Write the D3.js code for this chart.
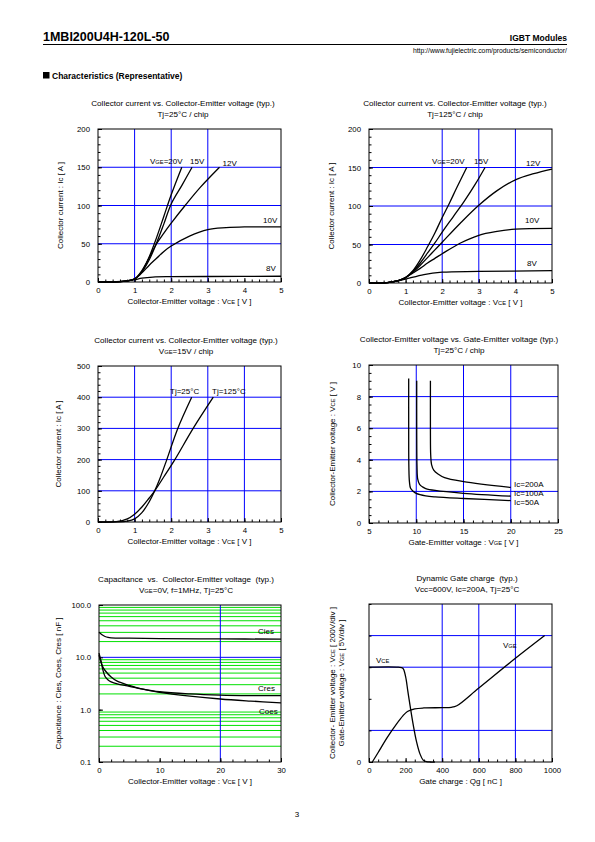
<!DOCTYPE html>
<html><head><meta charset="utf-8">
<script src="https://cdn.jsdelivr.net/npm/d3@7"></script>
<style>
body{margin:0;background:#fff;}
text{font-family:"Liberation Sans",Arial,sans-serif;}
</style></head><body>
<script>
// ---------- DATA ----------
// Chart 1: Ic vs Vce, Tj=25C
const c1_20V = [[0,0],[0.5,0.3],[0.8,1.5],[1.0,4],[1.2,14],[1.4,33],[1.6,58],[1.8,86],[2.0,114],[2.29,150]];
const c1_15V = [[0,0],[0.5,0.3],[0.8,1.5],[1.0,4],[1.2,13],[1.4,29],[1.6,51],[1.8,76],[2.0,102],[2.3,127],[2.57,150]];
const c1_12V = [[0,0],[0.5,0.3],[0.8,1.5],[1.0,4],[1.2,15],[1.4,32],[1.6,50],[1.8,64],[2.0,77],[2.38,100],[2.8,124],[3.32,150]];
const c1_10V = [[0,0],[0.5,0.3],[0.8,1.5],[1.0,4],[1.2,12],[1.4,22],[1.6,31],[1.8,40],[2.0,47],[2.5,60],[3.0,68.5],[3.5,71],[4.0,72],[5.0,72]];
const c1_8V  = [[0,0],[0.5,0.3],[0.8,1.5],[1.0,3],[1.2,5],[1.5,6.5],[2.0,7],[3.0,7.2],[5.0,7.5]];
// Chart 2: Ic vs Vce, Tj=125C
const c2_20V = [[0,0],[0.5,0.5],[0.8,3],[1.0,7],[1.2,16],[1.4,30],[1.6,47],[1.8,65],[2.0,85],[2.2,104],[2.4,124],[2.67,150]];
const c2_15V = [[0,0],[0.5,0.5],[0.8,3],[1.0,7],[1.2,15],[1.4,26],[1.6,39],[1.8,52],[2.0,66],[2.3,86],[2.6,106],[2.9,128],[3.17,150]];
const c2_12V = [[0,0],[0.5,0.5],[0.8,3],[1.0,7],[1.2,14],[1.4,23],[1.6,33],[1.8,43],[2.0,53],[2.5,78],[3.0,101],[3.5,120],[4.0,134],[4.5,142],[5.0,148]];
const c2_10V = [[0,0],[0.5,0.5],[0.8,3],[1.0,7],[1.2,13],[1.4,19],[1.6,26],[1.8,32],[2.0,38],[2.5,52],[3.0,62],[3.5,67],[4.0,70],[5.0,71]];
const c2_8V  = [[0,0],[0.5,0.5],[0.8,3],[1.0,5],[1.5,11],[2.0,14],[3.0,15],[5.0,16]];
// Chart 3: Ic vs Vce, Vge=15V
const c3_25C  = [[0,0],[0.5,0.5],[0.8,3],[1.0,10],[1.2,30],[1.4,65],[1.55,100],[1.7,142],[1.88,200],[2.18,300],[2.56,400]];
const c3_125C = [[0,0],[0.5,1],[0.8,10],[1.0,25],[1.2,48],[1.4,77],[1.55,100],[1.8,145],[2.1,200],[2.6,300],[3.15,400]];
// Chart 4: Vce vs Vge, Tj=25C
const c4_50A  = [[9.2,9.15],[9.2,6],[9.22,3.5],[9.28,2.6],[9.4,2.2],[9.7,2.0],[10,1.88],[11,1.72],[12,1.65],[15,1.55],[20,1.42]];
const c4_100A = [[10.05,9.0],[10.05,6],[10.08,3.6],[10.15,2.8],[10.35,2.45],[10.7,2.27],[11,2.18],[12,2.06],[15,1.88],[20,1.7]];
const c4_200A = [[11.5,9.0],[11.5,6],[11.53,4.3],[11.62,3.7],[11.85,3.35],[12.3,3.1],[13,2.87],[15,2.62],[20,2.25]];
// Chart 5: Capacitance vs Vce
const c5_Cies = [[0,30],[0.5,27],[1,25],[1.5,24],[2,23.6],[5,23.2],[10,22.8],[20,22.5],[30,22.3]];
const c5_Coes = [[0,11],[0.3,8.3],[0.6,6.7],[1,5.6],[2,4.2],[3,3.5],[5,2.9],[7,2.5],[10,2.15],[15,1.82],[20,1.6],[25,1.46],[30,1.35]];
const c5_Cres = [[0,12],[0.3,8.8],[0.6,6],[1,4.3],[1.5,3.7],[2,3.4],[3,3.1],[5,2.8],[7,2.5],[10,2.2],[15,2.0],[20,1.9],[25,1.86],[30,1.85]];
// Chart 6: Gate charge (Vce in V, Vge in V)
const c6_Vce = [[0,600],[160,600],[185,594],[200,540],[212,450],[224,360],[242,233],[260,127],[278,53],[296,12],[315,2],[335,0],[360,0]];
const c6_Vge = [[18,0],[50,1.5],[100,3.9],[150,6.0],[185,7.3],[210,8.0],[250,8.4],[300,8.55],[400,8.6],[450,8.65],[480,8.9],[600,11.7],[800,16.4],[960,20]];

// Tick labels
const ticksIc200 = [0,50,100,150,200];
const ticksIc500 = [0,100,200,300,400,500];
const ticksV5 = [0,1,2,3,4,5];
const ticksVge = [5,10,15,20,25];
const ticksVce10 = [0,2,4,6,8,10];
const ticksCap = [0.1,1,10,100];
const ticksCapX = [0,10,20,30];
const ticksQg = [0,200,400,600,800,1000];

// ---------- DRAWING ----------
const svg = d3.select("body").append("svg").attr("width",595).attr("height",842);
svg.append("rect").attr("width",595).attr("height",842).attr("fill","#fff");

const BLUE="#0000ff", GREEN="#00e000";
const FS_TITLE=8.1, FS_AXIS=8, FS_TICK=7.8, FS_LAB=8;

function rich(g, str, fs){
  const re=/_\{([^}]*)\}/g; let last=0, m;
  while((m=re.exec(str))){
    if(m.index>last) g.append("tspan").text(str.slice(last,m.index));
    g.append("tspan").attr("font-size",fs*0.72).text(m[1]);
    last=re.lastIndex;
  }
  if(last<str.length) g.append("tspan").text(str.slice(last));
}
function txt(x,y,str,fs,anchor,extra){
  const t=svg.append("text").attr("x",x).attr("y",y).attr("font-size",fs)
    .attr("text-anchor",anchor||"start").attr("fill","#000").style("white-space","pre");
  if(extra) extra(t);
  rich(t,str,fs); return t;
}

function chart(c){
  const x = d3.scaleLinear().domain(c.xd).range([c.l,c.r]);
  const y = (c.log?d3.scaleLog():d3.scaleLinear()).domain(c.yd).range([c.b,c.t]);
  const g = svg.append("g");
  (c.hGrid||[]).forEach(h=>{
    g.append("line").attr("x1",c.l).attr("x2",c.r).attr("y1",y(h.v)).attr("y2",y(h.v))
     .attr("stroke",h.c).attr("stroke-width",1);
  });
  (c.xGrid||[]).forEach(v=>{
    g.append("line").attr("y1",c.t).attr("y2",c.b).attr("x1",x(v)).attr("x2",x(v))
     .attr("stroke",BLUE).attr("stroke-width",1);
  });
  const ax = g.append("g").attr("transform",`translate(0,${c.b})`)
    .call(d3.axisBottom(x).tickValues(c.xTicks).tickSizeInner(-4).tickSizeOuter(0).tickPadding(5.5).tickFormat(c.xFmt||d3.format("d")));
  const ay = g.append("g").attr("transform",`translate(${c.l},0)`)
    .call(d3.axisLeft(y).tickValues(c.yTicks).tickSizeInner(-4).tickSizeOuter(0).tickPadding(8).tickFormat(c.yFmt||d3.format("d")));
  [ax,ay].forEach(a=>{a.select(".domain").remove();
    a.selectAll("text").attr("font-size",FS_TICK).attr("font-family","Liberation Sans, Arial, sans-serif").attr("fill","#000");
    a.selectAll("line").attr("stroke","#000");});
  if(c.xMinor){
    g.append("g").attr("transform",`translate(0,${c.b})`)
     .call(d3.axisBottom(x).tickValues(c.xMinor).tickSizeInner(-2.5).tickSizeOuter(0).tickFormat(""))
     .call(s=>{s.select(".domain").remove(); s.selectAll("line").attr("stroke","#000");});
  }
  if(c.yMinor){
    g.append("g").attr("transform",`translate(${c.l},0)`)
     .call(d3.axisLeft(y).tickValues(c.yMinor).tickSizeInner(-2.5).tickSizeOuter(0).tickFormat(""))
     .call(s=>{s.select(".domain").remove(); s.selectAll("line").attr("stroke","#000");});
  }
  c.series.forEach(s=>{
    const ys = s.scale ? s.scale : y;
    g.append("path").datum(s.d).attr("fill","none").attr("stroke","#000").attr("stroke-width",1.3)
     .attr("d", d3.line().x(d=>x(d[0])).y(d=>ys(d[1])).curve(d3.curveCatmullRom.alpha(0.5)));
  });
  g.append("rect").attr("x",c.l).attr("y",c.t).attr("width",c.r-c.l).attr("height",c.b-c.t)
   .attr("fill","none").attr("stroke","#000").attr("stroke-width",1);
  txt(c.tx,c.t-23.5,c.title1,FS_TITLE,"middle");
  txt(c.tx,c.t-12.3,c.title2,FS_TITLE,"middle");
  txt((c.l+c.r)/2,c.b+22,c.xlab,FS_AXIS,"middle");
  (c.ylab||[]).forEach(yl=>{
    txt(0,0,yl.s,FS_AXIS,"middle",t=>t.attr("transform",`translate(${yl.x},${(c.t+c.b)/2}) rotate(-90)`));
  });
  (c.labels||[]).forEach(L=>txt(L.x,L.y,L.s,FS_LAB,L.a||"start"));
  return {x,y};
}

function range(a,b,s){const r=[];for(let v=a;v<=b+1e-9;v+=s)r.push(+v.toFixed(4));return r;}

// header
txt(43,41,"1MBI200U4H-120L-50",12.5,"start",t=>t.attr("font-weight","bold"));
txt(567,41,"IGBT Modules",8.5,"end",t=>t.attr("font-weight","bold"));
svg.append("line").attr("x1",43).attr("x2",567).attr("y1",44.5).attr("y2",44.5).attr("stroke","#000").attr("stroke-width",1);
txt(567,52.5,"http://www.fujielectric.com/products/semiconductor/",6.8,"end");
svg.append("rect").attr("x",43).attr("y",72).attr("width",6.5).attr("height",6.5).attr("fill","#000");
txt(52,79,"Characteristics (Representative)",8.5,"start",t=>t.attr("font-weight","bold"));
txt(297,817,"3",8,"middle");

// Chart 1
chart({l:98,r:281,t:129,b:282,xd:[0,5],yd:[0,200],tx:183,
  xGrid:[1,2,3],hGrid:[50,100,150].map(v=>({v,c:BLUE})),
  xTicks:ticksV5,yTicks:ticksIc200,xMinor:range(0,5,0.2),yMinor:range(0,200,10),
  title1:"Collector current vs. Collector-Emitter voltage (typ.)",title2:"Tj=25°C / chip",
  xlab:"Collector-Emitter voltage : V_{CE} [ V ]",ylab:[{x:63,s:"Collector current : Ic [ A ]"}],
  series:[{d:c1_20V},{d:c1_15V},{d:c1_12V},{d:c1_10V},{d:c1_8V}],
  labels:[{x:150,y:164,s:"V_{GE}=20V"},{x:190,y:164,s:"15V"},{x:222.5,y:166,s:"12V"},{x:263,y:223,s:"10V"},{x:266,y:271,s:"8V"}]});

// Chart 2
chart({l:369,r:552,t:129,b:283,xd:[0,5],yd:[0,200],tx:455,
  xGrid:[2,3,4],hGrid:[50,100,150].map(v=>({v,c:BLUE})),
  xTicks:ticksV5,yTicks:ticksIc200,xMinor:range(0,5,0.2),yMinor:range(0,200,10),
  title1:"Collector current vs. Collector-Emitter voltage (typ.)",title2:"Tj=125°C / chip",
  xlab:"Collector-Emitter voltage : V_{CE} [ V ]",ylab:[{x:334,s:"Collector current : Ic [ A ]"}],
  series:[{d:c2_20V},{d:c2_15V},{d:c2_12V},{d:c2_10V},{d:c2_8V}],
  labels:[{x:432,y:164,s:"V_{GE}=20V"},{x:474,y:164,s:"15V"},{x:526,y:166,s:"12V"},{x:525,y:223,s:"10V"},{x:527,y:266,s:"8V"}]});

// Chart 3
chart({l:98,r:281,t:366,b:522,xd:[0,5],yd:[0,500],tx:186,
  xGrid:[1,2,3,4],hGrid:[100,200,300,400].map(v=>({v,c:BLUE})),
  xTicks:ticksV5,yTicks:ticksIc500,xMinor:range(0,5,0.2),yMinor:range(0,500,20),
  title1:"Collector current vs. Collector-Emitter voltage (typ.)",title2:"V_{GE}=15V / chip",
  xlab:"Collector-Emitter voltage : V_{CE} [ V ]",ylab:[{x:61,s:"Collector current : Ic [ A ]"}],
  series:[{d:c3_25C},{d:c3_125C}],
  labels:[{x:170,y:394,s:"Tj=25°C"},{x:212,y:394,s:"Tj=125°C"}]});

// Chart 4
chart({l:369,r:558,t:365,b:523,xd:[5,25],yd:[0,10],tx:459,
  xGrid:[10,15,20],hGrid:[2,4,6,8].map(v=>({v,c:BLUE})),
  xTicks:ticksVge,yTicks:ticksVce10,xMinor:range(5,25,1),yMinor:range(0,10,0.5),
  title1:"Collector-Emitter voltage vs. Gate-Emitter voltage (typ.)",title2:"Tj=25°C / chip",
  xlab:"Gate-Emitter voltage : V_{GE} [ V ]",ylab:[{x:335,s:"Collector-Emitter voltage : V_{CE} [ V ]"}],
  series:[{d:c4_50A},{d:c4_100A},{d:c4_200A}],
  labels:[{x:514,y:487,s:"Ic=200A"},{x:514,y:496,s:"Ic=100A"},{x:514,y:504.5,s:"Ic=50A"}]});

// Chart 5
const capGreen=[];[0.1,1,10].forEach(d=>{for(let k=2;k<=9;k++)capGreen.push(+(d*k).toFixed(3));});
chart({l:99,r:281,t:605,b:762,xd:[0,30],yd:[0.1,100],log:true,tx:186,
  xGrid:[20],hGrid:capGreen.map(v=>({v,c:GREEN})).concat([{v:10,c:BLUE}]),
  xTicks:ticksCapX,yTicks:ticksCap,xMinor:range(0,30,2),yMinor:[1],yFmt:d3.format(".1f"),
  title1:"Capacitance  vs.  Collector-Emitter voltage  (typ.)",title2:"V_{GE}=0V, f=1MHz, Tj=25°C",
  xlab:"Collector-Emitter voltage : V_{CE} [ V ]",ylab:[{x:61,s:"Capacitance : Cies, Coes, Cres [ nF ]"}],
  series:[{d:c5_Cies},{d:c5_Coes},{d:c5_Cres}],
  labels:[{x:258,y:634,s:"Cies"},{x:258,y:691,s:"Cres"},{x:259,y:714,s:"Coes"}]});

// Chart 6
const ch6 = {l:369,r:552,t:604,b:762,xd:[0,1000],yd:[0,1000],tx:467,
  xGrid:[400,600,800],hGrid:[200,600,800].map(v=>({v,c:BLUE})),
  xTicks:ticksQg,yTicks:[0],xMinor:range(0,1000,50),yMinor:range(0,1000,200),
  title1:"Dynamic Gate charge  (typ.)",title2:"Vcc=600V, Ic=200A, Tj=25°C",
  xlab:"Gate charge : Qg [ nC ]",
  ylab:[{x:335,s:"Collector- Emitter voltage : V_{CE} [ 200V/div ]"},{x:343.5,s:"Gate-Emitter voltage : V_{GE} [ 5V/div ]"}],
  series:[{d:c6_Vce}],
  labels:[{x:376,y:663,s:"V_{CE}"},{x:503,y:648,s:"V_{GE}"}]};
const vgeScale = d3.scaleLinear().domain([0,25]).range([ch6.b,ch6.t]);
ch6.series.push({d:c6_Vge,scale:vgeScale});
chart(ch6);
</script>
</body></html>
